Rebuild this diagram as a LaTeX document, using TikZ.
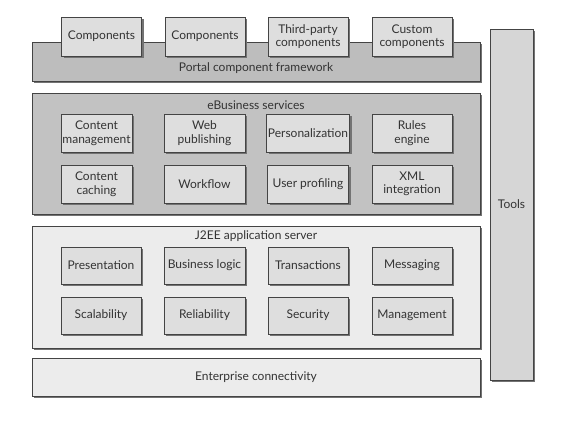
\documentclass[tikz,border=0pt]{standalone}
\usepackage{fontspec}
\setmainfont{Lato}
\usetikzlibrary{shadows}
\definecolor{barGray}{HTML}{BDBDBD}
\definecolor{darkPane}{HTML}{C2C2C2}
\definecolor{lightPane}{HTML}{ECECEC}
\definecolor{boxGray}{HTML}{DEDEDE}
\definecolor{toolGray}{HTML}{D6D6D6}
\definecolor{edgeGray}{HTML}{444444}
\begin{document}
\begin{tikzpicture}[x=1pt,y=-1pt,font=\fontsize{12}{13.5}\selectfont,
  every node/.style={text=black!80,align=center,inner sep=0pt},
  layer/.style={draw=edgeGray,line width=0.8pt,minimum width=448pt,
    drop shadow={shadow xshift=2pt,shadow yshift=-2pt,fill=black!55,opacity=1}},
  part/.style={layer,fill=boxGray,minimum width=80pt,minimum height=38pt}]
\useasboundingbox (0,0) rectangle (567,431);
% portal layer
\node [layer,fill=barGray,minimum height=39pt] (portal) at (256,61.5) {};
\node (portalLbl) at (256,68) {Portal component framework};
\node [part,minimum height=39pt] (comp1) at (101.5,36.5) {Components};
\node [part,minimum height=39pt] (comp2) at (205,36.5) {Components};
\node [part,minimum height=39pt] (comp3) at (308,36.5) {Third-party\\components};
\node [part,minimum height=39pt] (comp4) at (412,36.5) {Custom\\components};
% eBusiness services
\node [layer,fill=darkPane,minimum height=121pt] (ebiz) at (256,153.5) {};
\node (ebizLbl) at (256,105) {eBusiness services};
\node [part,minimum width=71pt] (content) at (96.5,133) {Content\\management};
\node [part,minimum width=81pt] (webpub) at (204.5,133) {Web\\publishing};
\node [part,minimum width=83pt] (person) at (308,133) {Personalization};
\node [part] (rules) at (412,133) {Rules\\engine};
\node [part,minimum width=71pt] (caching) at (96.5,184) {Content\\caching};
\node [part,minimum width=81pt] (workflow) at (204.5,184) {Workflow};
\node [part,minimum width=81pt] (profiling) at (308,184) {User profiling};
\node [part] (xml) at (412,184) {XML\\integration};
% J2EE application server
\node [layer,fill=lightPane,minimum height=122pt] (j2ee) at (256,287) {};
\node (j2eeLbl) at (256,236) {J2EE application server};
\node [part,minimum height=37pt] (present) at (101,265.5) {Presentation};
\node [part,minimum width=81pt,minimum height=37pt] (logic) at (204.5,265.5) {Business logic};
\node [part,minimum height=37pt] (trans) at (308,265.5) {Transactions};
\node [part,minimum height=37pt] (msg) at (412,265.5) {Messaging};
\node [part,minimum height=37pt] (scale) at (101,315.5) {Scalability};
\node [part,minimum width=81pt,minimum height=37pt] (reliab) at (204.5,315.5) {Reliability};
\node [part,minimum height=37pt] (secur) at (308,315.5) {Security};
\node [part,minimum height=37pt] (manage) at (412,315.5) {Management};
% connectivity and tools
\node [layer,fill=lightPane,minimum height=38pt] (connect) at (256,377) {Enterprise connectivity};
\node [layer,fill=toolGray,minimum width=43pt,minimum height=351pt] (tools) at (511.5,204.5) {Tools};
\end{tikzpicture}
\end{document}
